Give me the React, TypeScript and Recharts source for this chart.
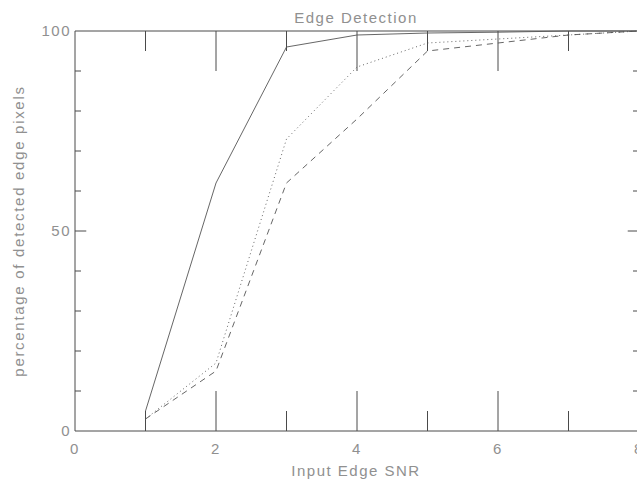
import { LineChart, Line, XAxis, YAxis, ReferenceLine, Label } from 'recharts';

const snr = [1, 2, 3, 4, 5, 6, 7, 8];
const solidSeries = [5, 62, 96, 99, 99.5, 99.7, 100, 100];
const dottedSeries = [3, 17, 73, 91, 97, 98, 99, 100];
const dashedSeries = [3, 15, 62, 78, 95, 97, 99, 100];

const xTicks = [0, 2, 4, 6, 8];
const yTicks = [0, 50, 100];
const xMinor = [1, 3, 5, 7];
const xMajorInner = [2, 4, 6];
const yMinor = [10, 20, 30, 40, 60, 70, 80, 90];
const yMajorInner = [50];

const data = snr.map((x, i) => ({
    x,
    solid: solidSeries[i],
    dotted: dottedSeries[i],
    dashed: dashedSeries[i],
}));

const ink = '#4a4a4a';
const lineInk = '#555';
const textColor = '#909090';
const font = '"Liberation Sans", Arial, sans-serif';

export default function App() {
    const tickStyle = { fontSize: 15, fill: textColor, fontFamily: font, letterSpacing: 1.5 };
    return (
        <div style={{ position: 'absolute', left: 0, top: 0, width: 637, height: 483, overflow: 'hidden', background: '#fff' }}>
            <LineChart width={650} height={483} data={data} margin={{ top: 31, right: 11, left: 0, bottom: 0 }}>
                <XAxis
                    dataKey="x"
                    type="number"
                    domain={[0, 8]}
                    ticks={xTicks}
                    height={52}
                    tickLine={false}
                    tickSize={8}
                    tickMargin={4}
                    axisLine={{ stroke: ink }}
                    tick={tickStyle}
                >
                    <Label
                        content={() => (
                            <text x={356} y={476} textAnchor="middle" fontSize={15} fill={textColor} fontFamily={font} letterSpacing={1.5}>
                                Input Edge SNR
                            </text>
                        )}
                    />
                </XAxis>
                <YAxis
                    type="number"
                    domain={[0, 100]}
                    ticks={yTicks}
                    width={75}
                    tickLine={false}
                    tickSize={4}
                    tickMargin={0}
                    axisLine={{ stroke: ink }}
                    tick={tickStyle}
                >
                    <Label
                        content={() => (
                            <text x={24} y={231} transform="rotate(-90, 24, 231)" textAnchor="middle" fontSize={15} fill={textColor} fontFamily={font} letterSpacing={1.7}>
                                percentage of detected edge pixels
                            </text>
                        )}
                    />
                </YAxis>
                <ReferenceLine y={100} stroke={ink} ifOverflow="visible">
                    <Label
                        content={() => (
                            <text x={356} y={23} textAnchor="middle" fontSize={15} fill={textColor} fontFamily={font} letterSpacing={1.5}>
                                Edge Detection
                            </text>
                        )}
                    />
                </ReferenceLine>
                <ReferenceLine x={8} stroke={ink} ifOverflow="visible" />
                {xMinor.map((t) => (
                    <ReferenceLine key={'bm' + t} segment={[{ x: t, y: 0 }, { x: t, y: 5 }]} stroke={ink} ifOverflow="visible" />
                ))}
                {xMajorInner.map((t) => (
                    <ReferenceLine key={'bM' + t} segment={[{ x: t, y: 0 }, { x: t, y: 10 }]} stroke={ink} ifOverflow="visible" />
                ))}
                {xMinor.map((t) => (
                    <ReferenceLine key={'tm' + t} segment={[{ x: t, y: 100 }, { x: t, y: 95 }]} stroke={ink} ifOverflow="visible" />
                ))}
                {xMajorInner.map((t) => (
                    <ReferenceLine key={'tM' + t} segment={[{ x: t, y: 100 }, { x: t, y: 90 }]} stroke={ink} ifOverflow="visible" />
                ))}
                {yMinor.map((t) => (
                    <ReferenceLine key={'lm' + t} segment={[{ x: 0, y: t }, { x: 0.085, y: t }]} stroke={ink} ifOverflow="visible" />
                ))}
                {yMajorInner.map((t) => (
                    <ReferenceLine key={'lM' + t} segment={[{ x: 0, y: t }, { x: 0.16, y: t }]} stroke={ink} ifOverflow="visible" />
                ))}
                {yMinor.map((t) => (
                    <ReferenceLine key={'rm' + t} segment={[{ x: 8, y: t }, { x: 7.915, y: t }]} stroke={ink} ifOverflow="visible" />
                ))}
                {yMajorInner.map((t) => (
                    <ReferenceLine key={'rM' + t} segment={[{ x: 8, y: t }, { x: 7.84, y: t }]} stroke={ink} ifOverflow="visible" />
                ))}
                <Line type="linear" dataKey="solid" stroke={lineInk} strokeWidth={0.9} dot={false} isAnimationActive={false} />
                <Line type="linear" dataKey="dotted" stroke={lineInk} strokeWidth={0.9} strokeDasharray="1 3" dot={false} isAnimationActive={false} />
                <Line type="linear" dataKey="dashed" stroke={lineInk} strokeWidth={0.9} strokeDasharray="6 5" dot={false} isAnimationActive={false} />
            </LineChart>
        </div>
    );
}
